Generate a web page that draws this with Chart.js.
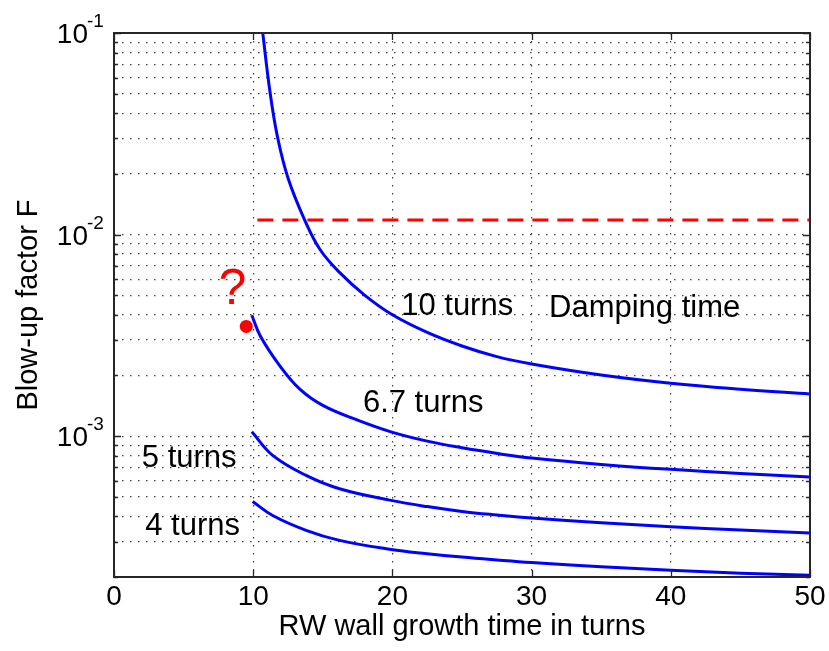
<!DOCTYPE html>
<html>
<head>
<meta charset="utf-8">
<script src="https://cdn.jsdelivr.net/npm/chart.js@4.4.1/dist/chart.umd.min.js"></script>
<style>
  html, body { margin: 0; padding: 0; background: #fff; }
  #wrap { width: 829px; height: 651px; position: relative; }
</style>
</head>
<body>
<div id="wrap"><canvas id="grafico"></canvas></div>
<script>
// RW wall growth time (turns) vs blow-up factor, one curve per damping time
const tempo10 = [10.65, 11.2, 11.75, 12.5, 13.7, 14.8, 16.2, 18, 20, 22.5, 25, 27.5, 30, 35, 40, 45, 50];
const fator10 = [0.105, 0.0514, 0.0304, 0.0191, 0.0118, 0.00843, 0.00649, 0.00501, 0.00400, 0.00327, 0.00280, 0.00248, 0.00228, 0.00201, 0.00183, 0.00171, 0.00162];

const tempo67 = [9.9, 10.5, 11.9, 13.35, 15, 17.5, 19.9, 22.5, 25, 27.66, 30, 35, 40, 45, 50];
const fator67 = [0.00398, 0.00315, 0.00224, 0.00171, 0.00142, 0.00120, 0.00105, 0.000944, 0.000875, 0.000818, 0.000778, 0.000724, 0.000684, 0.000653, 0.000627];

const tempo5 = [9.9, 11.4, 13.8, 16.2, 19.9, 22.5, 25, 27.5, 30, 35, 40, 45, 50];
const fator5 = [0.00105, 0.000802, 0.000638, 0.000548, 0.000480, 0.000447, 0.000423, 0.000406, 0.000392, 0.000372, 0.000355, 0.000342, 0.000331];

const tempo4 = [9.96, 11.4, 13.8, 16.2, 19.9, 22.5, 25, 27.5, 30, 35, 40, 45, 50];
const fator4 = [0.000474, 0.000404, 0.000341, 0.000304, 0.000274, 0.000261, 0.000251, 0.000243, 0.000236, 0.000225, 0.000216, 0.000209, 0.000204];

// horizontal damping-time level and the isolated point
const tempoAmort = [10.3, 50];
const fatorAmort = [0.0118, 0.0118];
const pontoX = [9.5];
const pontoY = [0.0035];

const xTicks = [0, 10, 20, 30, 40, 50];
const yExpoentes = [-3, -2, -1];
const yMin = 2e-4, yMax = 0.1;

// every 1..9 x 10^k inside the range, for the dotted grid
const yGrade = [];
for (let e = -4; e <= -1; e++) {
  for (let m = 1; m <= 9; m++) {
    const v = +(m * Math.pow(10, e)).toPrecision(3);
    if (v >= yMin - 1e-12 && v <= yMax + 1e-12) yGrade.push(v);
  }
}

// text placed in data coordinates
const rotulos = [
  { texto: "10 turns", x: 20.63, y: Math.pow(10, -2.398) },
  { texto: "Damping time", x: 31.25, y: Math.pow(10, -2.411) },
  { texto: "6.7 turns", x: 17.88, y: Math.pow(10, -2.881) },
  { texto: "5 turns", x: 2.0, y: Math.pow(10, -3.153) },
  { texto: "4 turns", x: 2.24, y: Math.pow(10, -3.492) }
];

const FONTE = '"Liberation Sans", Arial, sans-serif';

const pares = (xs, ys) => xs.map((x, i) => ({ x: x, y: ys[i] }));

function curva(xs, ys) {
  return {
    data: pares(xs, ys),
    borderColor: "#0000ff",
    borderWidth: 3,
    pointRadius: 0,
    tension: 0.4,
    fill: false
  };
}

const moldura = {
  id: "moldura",
  afterDraw(chart) {
    const { ctx, chartArea: a, scales: { x, y } } = chart;
    ctx.save();

    // inward tick marks
    ctx.strokeStyle = "#262626";
    ctx.lineWidth = 1.3;
    ctx.beginPath();
    xTicks.forEach(v => {
      const px = Math.round(x.getPixelForValue(v)) + 0.5;
      ctx.moveTo(px, a.bottom); ctx.lineTo(px, a.bottom - 7);
      ctx.moveTo(px, a.top); ctx.lineTo(px, a.top + 7);
    });
    yGrade.forEach(v => {
      const py = Math.round(y.getPixelForValue(v)) + 0.5;
      const maior = Math.abs(Math.log10(v) - Math.round(Math.log10(v))) < 1e-6;
      const len = maior ? 7 : 4;
      ctx.moveTo(a.left, py); ctx.lineTo(a.left + len, py);
      ctx.moveTo(a.right, py); ctx.lineTo(a.right - len, py);
    });
    ctx.stroke();

    // frame
    ctx.lineWidth = 2;
    ctx.strokeRect(a.left, a.top, a.right - a.left, a.bottom - a.top);

    ctx.fillStyle = "#000";

    // x tick labels
    ctx.font = "28px " + FONTE;
    ctx.textAlign = "center";
    ctx.textBaseline = "alphabetic";
    xTicks.forEach(v => ctx.fillText(String(v), x.getPixelForValue(v), a.bottom + 28));

    // y tick labels 10^k
    yExpoentes.forEach(e => {
      const py = y.getPixelForValue(Math.pow(10, e));
      ctx.font = "28px " + FONTE;
      ctx.textAlign = "right";
      ctx.fillText("10", a.left - 26, py + 10);
      ctx.font = "19px " + FONTE;
      ctx.textAlign = "left";
      ctx.fillText(String(e), a.left - 27, py - 6);
    });

    // axis titles
    ctx.font = "29px " + FONTE;
    ctx.textAlign = "center";
    ctx.fillText("RW wall growth time in turns", (a.left + a.right) / 2, a.bottom + 58);
    ctx.save();
    ctx.translate(37, (a.top + a.bottom) / 2);
    ctx.rotate(-Math.PI / 2);
    ctx.fillText("Blow-up factor F", 0, 0);
    ctx.restore();

    // curve labels
    ctx.font = "31px " + FONTE;
    ctx.textAlign = "left";
    rotulos.forEach(r => ctx.fillText(r.texto, x.getPixelForValue(r.x), y.getPixelForValue(r.y)));

    // red question mark above the point
    ctx.fillStyle = "#ff0000";
    ctx.font = "50px " + FONTE;
    ctx.textAlign = "center";
    ctx.fillText("?", x.getPixelForValue(8.51), y.getPixelForValue(Math.pow(10, -2.345)));

    ctx.restore();
  }
};

const ctx = document.getElementById("grafico").getContext("2d");

const grafico = new Chart(ctx, {
  type: "line",
  data: {
    datasets: [
      curva(tempo10, fator10),
      curva(tempo67, fator67),
      curva(tempo5, fator5),
      curva(tempo4, fator4),
      {
        data: pares(tempoAmort, fatorAmort),
        borderColor: "#ff0000",
        borderWidth: 3,
        borderDash: [16, 9],
        pointRadius: 0,
        fill: false
      },
      {
        data: pares(pontoX, pontoY),
        showLine: false,
        pointRadius: 6.5,
        pointBackgroundColor: "#ff0000",
        pointBorderWidth: 0,
        clip: false
      }
    ]
  },
  options: {
    responsive: true,
    maintainAspectRatio: false,
    animation: false,
    layout: { padding: { left: 114, right: 19, top: 33, bottom: 74 } },
    plugins: { legend: { display: false }, tooltip: { enabled: false } },
    scales: {
      x: {
        type: "linear",
        min: 0,
        max: 50,
        afterBuildTicks: s => { s.ticks = xTicks.map(v => ({ value: v })); },
        ticks: { display: false },
        grid: { color: "#404040", lineWidth: 1.2, drawTicks: false },
        border: { display: false, dash: [1.5, 6.5] }
      },
      y: {
        type: "logarithmic",
        min: yMin,
        max: yMax,
        afterBuildTicks: s => { s.ticks = yGrade.map(v => ({ value: v })); },
        ticks: { display: false },
        grid: { color: "#404040", lineWidth: 1.2, drawTicks: false },
        border: { display: false, dash: [1.5, 6.5] }
      }
    }
  },
  plugins: [moldura]
});
</script>
</body>
</html>
